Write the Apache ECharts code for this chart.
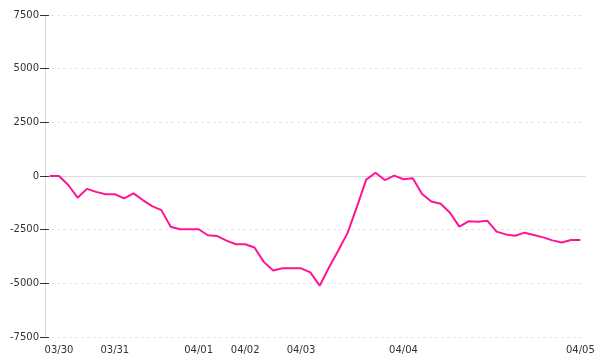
<!DOCTYPE html>
<html>
<head>
<meta charset="utf-8">
<script src="https://cdn.jsdelivr.net/npm/echarts@6/dist/echarts.min.js"></script>
<style>
html,body{margin:0;padding:0;background:#fff;}
#chart{width:600px;height:360px;}
</style>
</head>
<body>
<div id="chart"></div>
<script>
// Series values, one per sample (58 samples)
var values = [
  0, 0, -420, -1010, -600, -740, -850, -850, -1040, -810,
  -1120, -1400, -1590, -2360, -2480, -2480, -2480, -2760, -2800, -3010,
  -3180, -3180, -3330, -4000, -4400, -4300, -4300, -4300, -4490, -5110,
  -4260, -3470, -2650, -1440, -170, 150, -190, 15, -150, -110,
  -840, -1190, -1290, -1710, -2360, -2110, -2130, -2080, -2590, -2720,
  -2780, -2640, -2750, -2860, -3000, -3100, -2980, -2980
];
// Date tick labels and the sample index where each day starts
var tickLabels = ['03/30', '03/31', '04/01', '04/02', '04/03', '04/04', '04/05'];
var tickIndex = [1, 7, 16, 21, 27, 38, 57];
// Y axis range
var yMin = -7500, yMax = 7500, yStep = 2500;

var categories = values.map(function () { return ''; });
tickIndex.forEach(function (idx, k) { categories[idx] = tickLabels[k]; });

var chart = echarts.init(document.getElementById('chart'), null, {renderer: 'canvas'});
var font = 'DejaVu Sans';
chart.setOption({
  animation: false,
  backgroundColor: '#ffffff',
  grid: {left: 45, right: 15, top: 15, bottom: 23, containLabel: false},
  xAxis: [{
    type: 'category',
    data: categories,
    boundaryGap: true,
    axisLine: {show: false},
    axisTick: {show: false},
    splitLine: {show: false},
    axisLabel: {interval: 0, color: '#333', fontSize: 10, fontFamily: font, margin: 8}
  }, {
    type: 'category',
    data: categories,
    position: 'bottom',
    boundaryGap: true,
    axisLine: {show: true, onZero: true, lineStyle: {color: '#dadada', width: 1}},
    axisTick: {show: false},
    axisLabel: {show: false},
    splitLine: {show: false}
  }],
  yAxis: [{
    type: 'value',
    min: yMin, max: yMax, interval: yStep,
    axisLine: {show: true, lineStyle: {color: '#d9d9d9', width: 1}},
    axisTick: {show: true, length: 5, lineStyle: {color: '#333'}},
    axisLabel: {color: '#333', fontSize: 10, fontFamily: font, margin: 6,
      formatter: function (v) { return String(v); }},
    splitLine: {show: true, lineStyle: {color: '#e6e6e6', type: [3, 3], width: 1}}
  }, {
    type: 'value',
    position: 'left',
    min: yMin, max: yMax, interval: yStep,
    axisLine: {show: false},
    axisTick: {show: true, inside: true, length: 4, lineStyle: {color: '#333'}},
    axisLabel: {show: false},
    splitLine: {show: false}
  }],
  series: [{
    type: 'line',
    data: values,
    xAxisIndex: 0,
    yAxisIndex: 0,
    showSymbol: false,
    symbol: 'none',
    smooth: false,
    lineStyle: {color: '#ff1493', width: 2},
    itemStyle: {color: '#ff1493'},
    z: 3
  }]
});
</script>
</body>
</html>
